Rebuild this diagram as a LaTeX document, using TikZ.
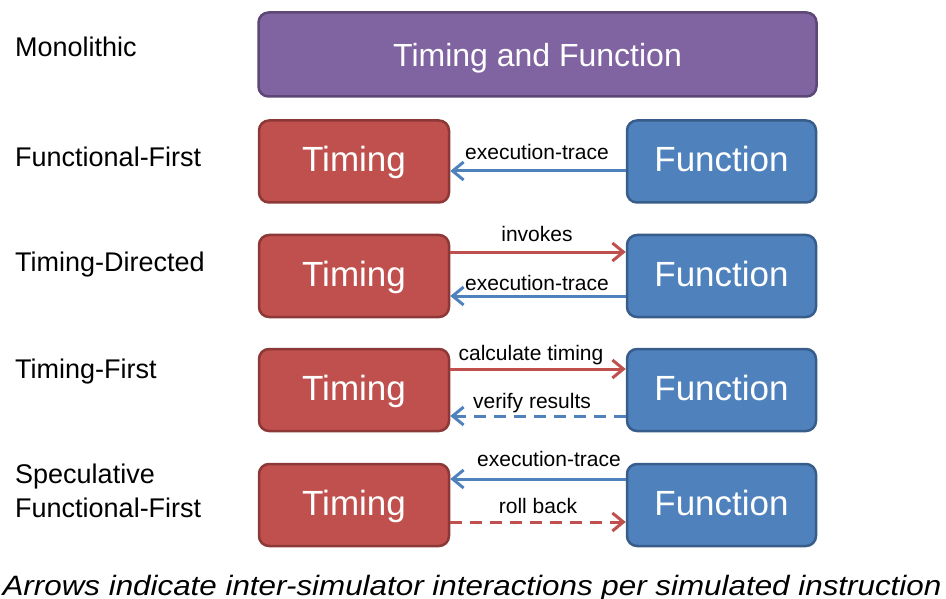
\documentclass[tikz,border=0pt]{standalone}
\usepackage{fontspec}
\setmainfont{Liberation Sans}
\usetikzlibrary{arrows.meta}
\definecolor{tred}{HTML}{C0504D}
\definecolor{tredd}{HTML}{8C3836}
\definecolor{fblue}{HTML}{4F81BD}
\definecolor{fblued}{HTML}{385D8A}
\definecolor{mpurple}{HTML}{8064A2}
\definecolor{mpurpled}{HTML}{5C4776}
\begin{document}
\begin{tikzpicture}[x=1pt,y=-1pt,
  box/.style={rounded corners=10pt,line width=2.5pt,inner sep=0pt,text=white,
    font=\fontsize{35}{40}\selectfont,text height=25pt,text depth=4pt},
  tbox/.style={box,fill=tred,draw=tredd,minimum width=190pt,minimum height=82pt},
  fbox/.style={box,fill=fblue,draw=fblued,minimum width=189pt,minimum height=82pt},
  rowlabel/.style={anchor=base west,inner sep=0pt,font=\fontsize{27}{32}\selectfont},
  alabel/.style={anchor=base,font=\fontsize{21}{24}\selectfont,inner sep=0pt},
  conn/.style={line width=3pt,-{Straight Barb[length=11pt,width=18pt,line width=3pt]}},
  redc/.style={conn,draw=tred},
  bluec/.style={conn,draw=fblue},
  dashc/.style={dash pattern=on 12pt off 8pt}]
\useasboundingbox (0,0) rectangle (946,599);
% Monolithic
\node[rowlabel] (l1) at (15,57) {Monolithic};
\node[box,fill=mpurple,draw=mpurpled,minimum width=558pt,minimum height=84pt,
  font=\fontsize{32}{36}\selectfont,text height=25pt,text depth=0pt] (mono) at (537.5,54.5) {Timing and Function};
% Row labels
\node[rowlabel] (l2) at (15,167) {Functional-First};
\node[rowlabel] (l3) at (15,272) {Timing-Directed};
\node[rowlabel] (l4) at (15,378) {Timing-First};
\node[rowlabel] (l5) at (15,483) {Speculative};
\node[rowlabel] (l6) at (15,517) {Functional-First};
% Boxes
\node[tbox] (t1) at (354,161.5) {Timing};
\node[fbox] (f1) at (721.5,161.5) {Function};
\node[tbox] (t2) at (354,276) {Timing};
\node[fbox] (f2) at (721.5,276) {Function};
\node[tbox] (t3) at (354,390) {Timing};
\node[fbox] (f3) at (721.5,390) {Function};
\node[tbox] (t4) at (354,505) {Timing};
\node[fbox] (f4) at (721.5,505) {Function};
% Row 1
\draw[bluec] (f1.west |- 0,171) -- (t1.east |- 0,171);
\node[alabel] (a1) at (537,160) {execution-trace};
% Row 2
\draw[redc] (t2.east |- 0,252) -- (f2.west |- 0,252);
\node[alabel] (a2) at (537,241) {invokes};
\draw[bluec] (f2.west |- 0,296) -- (t2.east |- 0,296);
\node[alabel] (a3) at (537,290) {execution-trace};
% Row 3
\draw[redc] (t3.east |- 0,369) -- (f3.west |- 0,369);
\node[alabel] (a4) at (531,360) {calculate timing};
\draw[bluec,dashc] (f3.west |- 0,416) -- (t3.east |- 0,416);
\node[alabel] (a5) at (532,408) {verify results};
% Row 4
\draw[bluec] (f4.west |- 0,479) -- (t4.east |- 0,479);
\node[alabel] (a6) at (549,466) {execution-trace};
\draw[redc,dashc] (t4.east |- 0,522) -- (f4.west |- 0,522);
\node[alabel] (a7) at (538,513) {roll back};
% Caption
\node[anchor=base,inner sep=0pt,font=\fontsize{28}{32}\selectfont\itshape] (cap) at (472,595) {\scalebox{1.12}[1]{Arrows indicate inter-simulator interactions per simulated instruction}};
\end{tikzpicture}
\end{document}
